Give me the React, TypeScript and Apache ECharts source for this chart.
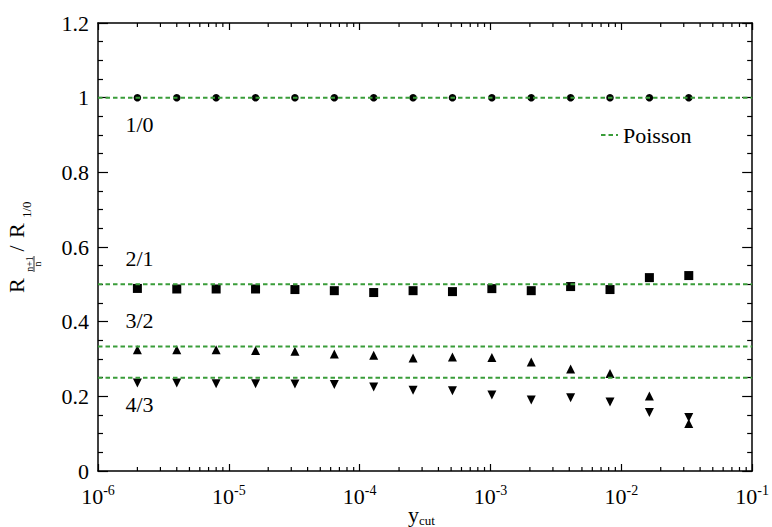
import React, { useEffect, useRef } from "react";
import * as echarts from "echarts";

const FONT = "Liberation Serif";

// y_cut values (x axis, log scale)
const yCut = [
  2e-6, 4e-6, 8e-6, 1.6e-5, 3.2e-5, 6.4e-5, 1.28e-4, 2.56e-4, 5.12e-4,
  1.024e-3, 2.048e-3, 4.096e-3, 8.192e-3, 1.6384e-2, 3.2768e-2,
];
// Ratios R_{n+1}/R_n normalised to R_{1/0}
const r10 = [1, 1, 1, 1, 1, 1, 1, 1, 1, 1, 1, 1, 1, 1, 1];
const r21 = [
  0.489, 0.4875, 0.4875, 0.4875, 0.486, 0.483, 0.478, 0.483, 0.4805, 0.4885,
  0.483, 0.494, 0.486, 0.518, 0.5235,
];
const r32 = [
  0.325, 0.325, 0.325, 0.323, 0.321, 0.3135, 0.31, 0.3027, 0.3055, 0.3037,
  0.292, 0.273, 0.261, 0.201, 0.127,
];
const r43 = [
  0.236, 0.236, 0.234, 0.234, 0.233, 0.2315, 0.225, 0.216, 0.215, 0.2036,
  0.19, 0.1965, 0.185, 0.157, 0.143,
];
// Poisson expectations
const poissonValues = [1, 0.5, 0.3333, 0.25];
const ratioLabels = ["1/0", "2/1", "3/2", "4/3"];
// axis ranges and ticks
const xMin = 1e-6;
const xMax = 1e-1;
const yMin = 0;
const yMax = 1.2;
const yInterval = 0.2;
const minorMantissas = [2, 3, 4, 5, 6, 7, 8, 9];
const decades = [1e-6, 1e-5, 1e-4, 1e-3, 1e-2];

const pairs = (ys: number[]) => yCut.map((x, i) => [x, ys[i]]);

export default function App() {
  const ref = useRef<HTMLDivElement>(null);

  useEffect(() => {
    if (!ref.current) return;
    const chart = echarts.init(ref.current, undefined, { renderer: "svg" });

    const minorTicks: number[][] = [];
    decades.forEach((d) => minorMantissas.forEach((m) => minorTicks.push([m * d, 0])));

    const axisLine = { show: true, onZero: false, lineStyle: { color: "#000", width: 1.5 } };
    const green = "#3a9d3a";

    const poissonSeries = poissonValues.map((v) => ({
      type: "line" as const,
      name: "Poisson",
      data: [
        [xMin, v],
        [xMax, v],
      ],
      symbol: "none",
      lineStyle: { color: green, width: 2, type: [4.5, 3] as any },
      itemStyle: { color: green },
      z: 4,
      silent: true,
    }));

    const labelPos = [
      [139.5, 124],
      [139.5, 258],
      [139.5, 320.5],
      [139.5, 404],
    ];

    const txt = (t: string, size: number, extra: any = {}) => ({
      text: t,
      fontSize: size,
      fontFamily: FONT,
      fill: "#000",
      ...extra,
    });

    const option: any = {
      animation: false,
      textStyle: { fontFamily: FONT },
      grid: { left: 98, right: 19, top: 23, bottom: 56, containLabel: false },
      legend: {
        data: [
          {
            name: "Poisson",
            icon: "path://M0,0h4.5v2h-4.5z M7.5,0h4.5v2h-4.5z M15,0h2v2h-2z",
          },
        ],
        left: 596,
        top: 119,
        itemWidth: 17,
        itemHeight: 2,
        itemGap: 0,
        textStyle: { fontSize: 22, fontFamily: FONT, color: "#000" },
      },
      xAxis: [
        {
          type: "log",
          logBase: 10,
          min: xMin,
          max: xMax,
          splitNumber: 5,
          position: "bottom",
          axisLine,
          axisTick: { show: true, inside: true, length: 7, lineStyle: { color: "#000", width: 1.2 } },
          splitLine: { show: false },
          axisLabel: {
            margin: 12,
            showMinLabel: true,
            showMaxLabel: true,
            color: "#000",
            fontFamily: FONT,
            fontSize: 22,
            formatter: (v: number) => `10{sup|${Math.round(Math.log10(v))}}`,
            rich: {
              sup: { fontSize: 14, fontFamily: FONT, color: "#000", padding: [0, 0, 12, 0] },
            },
          },
        },
        {
          type: "log",
          logBase: 10,
          min: xMin,
          max: xMax,
          splitNumber: 5,
          position: "top",
          axisLine,
          axisTick: { show: true, inside: true, length: 7, lineStyle: { color: "#000", width: 1.2 } },
          splitLine: { show: false },
          axisLabel: { show: false },
        },
      ],
      yAxis: [
        {
          type: "value",
          min: yMin,
          max: yMax,
          interval: yInterval,
          position: "left",
          axisLine,
          axisTick: { show: true, inside: true, length: 10, lineStyle: { color: "#000", width: 1.2 } },
          minorTick: { show: true, splitNumber: 4, length: 5, lineStyle: { color: "#000", width: 1.2 } },
          splitLine: { show: false },
          axisLabel: { margin: 9, color: "#000", fontFamily: FONT, fontSize: 22 },
        },
        {
          type: "value",
          min: yMin,
          max: yMax,
          interval: yInterval,
          position: "right",
          axisLine,
          axisTick: { show: true, inside: true, length: 10, lineStyle: { color: "#000", width: 1.2 } },
          minorTick: { show: true, splitNumber: 4, length: 5, lineStyle: { color: "#000", width: 1.2 } },
          splitLine: { show: false },
          axisLabel: { show: false },
        },
      ],
      series: [
        {
          type: "custom",
          name: "minorTicks",
          silent: true,
          clip: false,
          data: minorTicks,
          z: 5,
          renderItem: (params: any, api: any) => {
            const x = api.value(0);
            const pb = api.coord([x, yMin]);
            const pt = api.coord([x, yMax]);
            const st = { stroke: "#000", lineWidth: 1.2 };
            return {
              type: "group",
              children: [
                { type: "line", shape: { x1: pb[0], y1: pb[1], x2: pb[0], y2: pb[1] - 4 }, style: st },
                { type: "line", shape: { x1: pt[0], y1: pt[1], x2: pt[0], y2: pt[1] + 4 }, style: st },
              ],
            };
          },
        },
        {
          type: "scatter",
          name: "1/0",
          data: pairs(r10),
          symbol: "circle",
          symbolSize: 7.5,
          itemStyle: { color: "#000", opacity: 1 },
          z: 3,
        },
        {
          type: "scatter",
          name: "2/1",
          data: pairs(r21),
          symbol: "rect",
          symbolSize: 9,
          itemStyle: { color: "#000", opacity: 1 },
          z: 3,
        },
        {
          type: "scatter",
          name: "3/2",
          data: pairs(r32),
          symbol: "triangle",
          symbolSize: 9,
          itemStyle: { color: "#000", opacity: 1 },
          z: 3,
        },
        {
          type: "scatter",
          name: "4/3",
          data: pairs(r43),
          symbol: "triangle",
          symbolRotate: 180,
          symbolSize: 9,
          itemStyle: { color: "#000", opacity: 1 },
          z: 3,
        },
        ...poissonSeries,
      ],
      graphic: [
        ...ratioLabels.map((t, i) => ({
          type: "text",
          x: labelPos[i][0],
          y: labelPos[i][1],
          style: txt(t, 22, { align: "center", verticalAlign: "middle" }),
        })),
        {
          type: "text",
          x: 408,
          y: 514,
          style: txt("y{sub|cut}", 22, {
            align: "left",
            verticalAlign: "middle",
            rich: {
              sub: { fontSize: 13, fontFamily: FONT, fill: "#000", padding: [12, 0, 0, 0] },
            },
          }),
        },
        {
          type: "group",
          x: 16.5,
          y: 293,
          rotation: Math.PI / 2,
          children: [
            { type: "text", x: 0, y: 0, style: txt("R", 22, { align: "left", verticalAlign: "middle" }) },
            { type: "text", x: 29, y: 13, style: txt("n+1", 10, { align: "center", verticalAlign: "middle" }) },
            { type: "line", shape: { x1: 21, y1: 17.5, x2: 37, y2: 17.5 }, style: { stroke: "#000", lineWidth: 0.8 } },
            { type: "text", x: 29, y: 21, style: txt("n", 10, { align: "center", verticalAlign: "middle" }) },
            { type: "text", x: 44.5, y: 0, style: txt("/", 22, { align: "center", verticalAlign: "middle" }) },
            { type: "text", x: 55, y: 0, style: txt("R", 22, { align: "left", verticalAlign: "middle" }) },
            { type: "text", x: 75, y: 10, style: txt("1/0", 13, { align: "left", verticalAlign: "middle" }) },
          ],
        },
      ],
    };

    chart.setOption(option);
    return () => chart.dispose();
  }, []);

  return (
    <div
      ref={ref}
      style={{ position: "absolute", left: 0, top: 0, width: 772, height: 527 }}
    />
  );
}
